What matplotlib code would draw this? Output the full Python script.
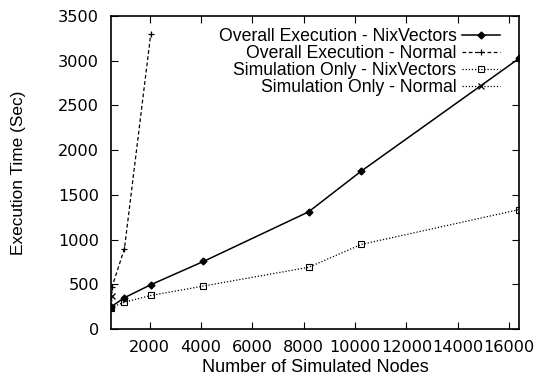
import matplotlib
matplotlib.use('Agg')
import matplotlib.pyplot as plt
from matplotlib.ticker import MultipleLocator

plt.rcParams['font.family'] = ['Liberation Sans', 'DejaVu Sans']

# data
nodes = [512, 1024, 2048, 4096, 8192, 10240, 16384]
overall_nix = [250, 350, 495, 755, 1310, 1765, 3025]
sim_nix = [240, 300, 375, 480, 690, 945, 1335]

nodes_normal = [512, 540, 1024, 2048]
overall_normal = [250, 470, 900, 3300]
nodes_sim_normal = [512, 540]
sim_normal = [240, 370]

W, H = 537, 374
fig = plt.figure(figsize=(W / 100, H / 100), dpi=100)
ax = fig.add_axes([111 / W, 1 - 329 / H, (519 - 111) / W, (329 - 16) / H])

ax.plot(nodes, overall_nix, color='black', lw=1.1, marker='D', ms=3.5,
        label='Overall Execution - NixVectors')
ax.plot(nodes_normal, overall_normal, color='black', lw=0.9, ls=(0, (3, 2)),
        marker='+', ms=5, mew=0.9, label='Overall Execution - Normal')
ax.plot(nodes, sim_nix, color='black', lw=0.9, ls=(0, (1, 1.5)), marker='s',
        ms=4, mfc='none', mew=0.8, label='Simulation Only - NixVectors')
ax.plot(nodes_sim_normal, sim_normal, color='black', lw=0.9, ls=(0, (1, 1.5)),
        marker='x', ms=4, mew=0.9, label='Simulation Only - Normal')

ax.set_xlim(500, 16384)
ax.set_ylim(0, 3500)
ax.xaxis.set_major_locator(MultipleLocator(2000))
ax.yaxis.set_major_locator(MultipleLocator(500))
ax.tick_params(direction='in', top=True, right=True, length=5, width=0.8)
ax.tick_params(axis='x', pad=8)
ax.tick_params(axis='y', pad=8.5)
for lab in ax.get_xticklabels() + ax.get_yticklabels():
    lab.set_family('DejaVu Sans')
    lab.set_fontsize(11.6)
for s in ax.spines.values():
    s.set_linewidth(1.2)

ax.set_xlabel('Number of Simulated Nodes', fontsize=13, va='center')
ax.xaxis.set_label_coords(0.5, (329 - 367) / 313)
ax.set_ylabel('Execution Time (Sec)', fontsize=12.4, va='center')
ax.yaxis.set_label_coords((19 - 111) / 408, 0.5)

leg = ax.legend(loc='upper right', bbox_to_anchor=(500 / W, 1 - 28 / H),
                bbox_transform=fig.transFigure, frameon=False,
                markerfirst=False, fontsize=12.7, handlelength=2.16,
                handletextpad=0.3, labelspacing=0.0, borderpad=0,
                borderaxespad=0)

fig.savefig('out.png', dpi=100)
